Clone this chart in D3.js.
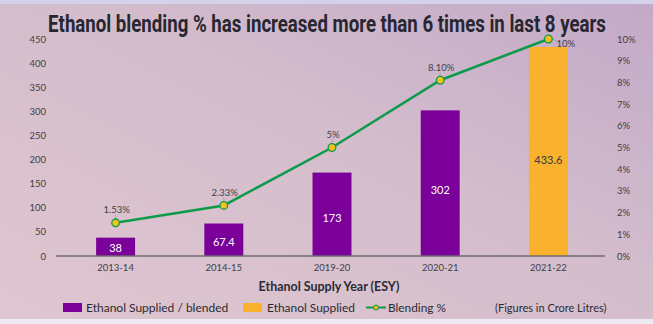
<!DOCTYPE html>
<html>
<head>
<meta charset="utf-8">
<script src="https://cdn.jsdelivr.net/npm/d3@7"></script>
<style>
    body { margin: 0; }
    svg { display: block; }
    .axis text { font-family: Lato, "Noto Sans", sans-serif; font-size: 9.5px; fill: #3f3f46; }
</style>
</head>
<body>
<div id="chart"></div>
<script>
// chart data
const years = ["2013-14", "2014-15", "2019-20", "2020-21", "2021-22"];
const supplied = [38, 67.4, 173, 302, 433.6];
const supplyType = ["blended", "blended", "blended", "blended", "supplied"];
const blending = [1.53, 2.33, 5, 8.10, 10];
const blendingLabels = ["1.53%", "2.33%", "5%", "8.10%", "10%"];
const leftTicks = [0, 50, 100, 150, 200, 250, 300, 350, 400, 450];
const rightTicks = [0, 1, 2, 3, 4, 5, 6, 7, 8, 9, 10];

const width = 653, height = 324;

let svg = d3.select("#chart").append("svg")
    .attr("width", width)
    .attr("height", height);

// squeeze a text horizontally so it fits a given width (the reference uses a narrow font)
function fitText(sel, x, y, target) {
    let w = sel.node().getComputedTextLength();
    let s = Math.min(1, target / w);
    sel.attr("x", 0).attr("y", 0)
        .attr("transform", "translate(" + x + "," + y + ") scale(" + s + ",1)");
}

// background gradient
let defs = svg.append("defs");
let bg = defs.append("linearGradient")
    .attr("id", "bg-gradient")
    .attr("x1", "0%").attr("y1", "100%")
    .attr("x2", "100%").attr("y2", "0%");
bg.selectAll("stop")
    .data([
        {offset: "0%", color: "#dfc6d0"},
        {offset: "55%", color: "#d4bdcc"},
        {offset: "100%", color: "#c3a9c8"}])
    .enter().append("stop")
    .attr("offset", d => d.offset)
    .attr("stop-color", d => d.color);

svg.append("rect").attr("width", width).attr("height", height).attr("fill", "url(#bg-gradient)");
svg.append("rect").attr("width", width).attr("height", 4).attr("fill", "#d3d2ea");
svg.append("rect").attr("y", 319).attr("width", width).attr("height", 5).attr("fill", "#eeebf4");

// title
let title = svg.append("text")
    .attr("text-anchor", "middle")
    .style("font-family", "Roboto, sans-serif")
    .style("font-weight", "bold")
    .style("font-size", "24px")
    .style("fill", "#272731")
    .text("Ethanol blending % has increased more than 6 times in last 8 years");
fitText(title, 327, 32, 558);

// scales
let x = d3.scaleBand()
    .domain(years)
    .range([61.5, 602.5])
    .paddingInner(0.64)
    .paddingOuter(0.32);

let y = d3.scaleLinear().domain([0, 450]).range([256, 39]);
let y2 = d3.scaleLinear().domain([0, 10]).range([256, 39]);

let colors = {blended: "#7a0099", supplied: "#f9b12e"};

// left axis
let leftAxis = svg.append("g")
    .attr("class", "axis")
    .attr("transform", "translate(48,0)")
    .call(d3.axisLeft(y).tickValues(leftTicks).tickSize(0).tickPadding(2));
leftAxis.select(".domain").remove();

// right axis
let rightAxis = svg.append("g")
    .attr("class", "axis")
    .attr("transform", "translate(615,0)")
    .call(d3.axisRight(y2).tickValues(rightTicks).tickSize(0).tickPadding(2).tickFormat(d => d + "%"));
rightAxis.select(".domain").remove();

// bars
let bars = svg.append("g");
bars.selectAll("rect")
    .data(years)
    .enter().append("rect")
    .attr("x", d => x(d))
    .attr("y", (d, i) => y(supplied[i]))
    .attr("width", x.bandwidth())
    .attr("height", (d, i) => y(0) - y(supplied[i]))
    .attr("fill", (d, i) => colors[supplyType[i]]);

// bar labels, a little below the middle of each bar
bars.selectAll("text")
    .data(years)
    .enter().append("text")
    .attr("x", d => x(d) + x.bandwidth() / 2)
    .attr("y", (d, i) => {
        let h = y(0) - y(supplied[i]);
        return y(supplied[i]) + h / 2 + h * 0.04;
    })
    .attr("text-anchor", "middle")
    .attr("dominant-baseline", "central")
    .style("font-family", "Lato, sans-serif")
    .style("font-size", "11px")
    .style("fill", (d, i) => supplyType[i] === "supplied" ? "#3b3b3b" : "#ffffff")
    .text((d, i) => supplied[i]);

// x axis
let xAxis = svg.append("g")
    .attr("class", "axis")
    .attr("transform", "translate(0," + y(0) + ")")
    .call(d3.axisBottom(x).tickSize(0).tickPadding(8));
xAxis.select(".domain").remove();
xAxis.append("line")
    .attr("x1", 56).attr("x2", 605)
    .attr("stroke", "#6e6a72")
    .attr("stroke-width", 1.5);

// axis title
let xTitle = svg.append("text")
    .attr("text-anchor", "middle")
    .style("font-family", "Lato, sans-serif")
    .style("font-weight", "bold")
    .style("font-size", "12.5px")
    .style("fill", "#2b2b33")
    .text("Ethanol Supply Year (ESY)");
fitText(xTitle, 329, 291, 141);

// blending line
let cx = d => x(d) + x.bandwidth() / 2;
let line = d3.line()
    .x(d => cx(d))
    .y((d, i) => y2(blending[i]));

svg.append("path")
    .datum(years)
    .attr("d", line)
    .attr("fill", "none")
    .attr("stroke", "#0d9a4b")
    .attr("stroke-width", 2.5);

// leader lines + point labels
let labelGroup = svg.append("g");
labelGroup.selectAll("line")
    .data(years)
    .enter().append("line")
    .attr("x1", (d, i) => i === 4 ? cx(d) + 4 : cx(d))
    .attr("x2", (d, i) => i === 4 ? cx(d) + 8 : cx(d))
    .attr("y1", (d, i) => i === 4 ? y2(blending[i]) : y2(blending[i]) - 4)
    .attr("y2", (d, i) => i === 4 ? y2(blending[i]) + 2 : y2(blending[i]) - 8)
    .attr("stroke", "#a49aa6")
    .attr("stroke-width", 0.8);

labelGroup.selectAll("text")
    .data(years)
    .enter().append("text")
    .attr("x", (d, i) => i === 4 ? cx(d) + 8 : cx(d) + 1)
    .attr("y", (d, i) => i === 4 ? y2(blending[i]) + 4 : y2(blending[i]) - 13)
    .attr("text-anchor", (d, i) => i === 4 ? "start" : "middle")
    .attr("dominant-baseline", "central")
    .style("font-family", "Lato, sans-serif")
    .style("font-size", "9.5px")
    .style("fill", "#3f3f46")
    .text((d, i) => blendingLabels[i]);

// markers
svg.append("g").selectAll("circle")
    .data(years)
    .enter().append("circle")
    .attr("cx", d => cx(d))
    .attr("cy", (d, i) => y2(blending[i]))
    .attr("r", 3.8)
    .attr("fill", "#f4c21a")
    .attr("stroke", "#0d9a4b")
    .attr("stroke-width", 1.3);

// legend
let legend = svg.append("g")
    .style("font-family", "Lato, sans-serif")
    .style("font-size", "12px")
    .style("fill", "#2b2b33");

legend.append("rect").attr("x", 63).attr("y", 303).attr("width", 19).attr("height", 9).attr("fill", colors.blended);
fitText(legend.append("text").text("Ethanol Supplied / blended"), 86, 311.5, 145);

legend.append("rect").attr("x", 243).attr("y", 303).attr("width", 19).attr("height", 9).attr("fill", colors.supplied);
fitText(legend.append("text").text("Ethanol Supplied"), 267, 311.5, 88);

legend.append("line").attr("x1", 366).attr("x2", 386).attr("y1", 307.5).attr("y2", 307.5)
    .attr("stroke", "#0d9a4b").attr("stroke-width", 2);
legend.append("circle").attr("cx", 376).attr("cy", 307.5).attr("r", 2.5)
    .attr("fill", "#f4c21a").attr("stroke", "#0d9a4b").attr("stroke-width", 1);
fitText(legend.append("text").text("Blending %"), 388, 311.5, 58);

fitText(legend.append("text").style("font-size", "11px").text("(Figures in Crore Litres)"), 495, 312, 114);
</script>
</body>
</html>
